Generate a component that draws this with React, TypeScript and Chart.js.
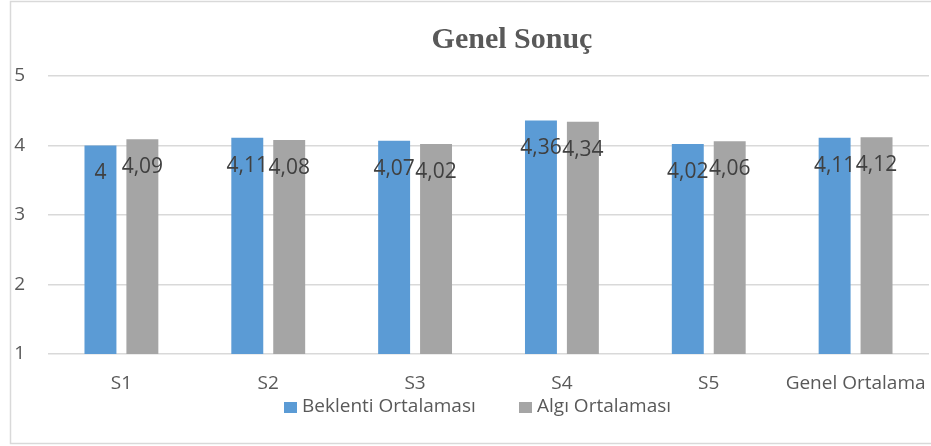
import React, { useEffect, useRef } from "react";
import { Chart, registerables } from "chart.js";

Chart.register(...registerables);

const categories = ["S1", "S2", "S3", "S4", "S5", "Genel Ortalama"];
const beklenti = [4, 4.11, 4.07, 4.36, 4.02, 4.11];
const algi = [4.09, 4.08, 4.02, 4.34, 4.06, 4.12];
const seriesNames = ["Beklenti Ortalaması", "Algı Ortalaması"];
const titleText = "Genel Sonuç";
const yMin = 1;
const yMax = 5;

const BLUE = "#5B9BD5";
const GRAY = "#A5A5A5";
const TEXT = "#595959";
const FONT = "'Open Sans'";

const fmt = (v: number) => String(v).replace(".", ",");

const decorPlugin = {
  id: "decor",
  beforeDraw(chart: any) {
    const ctx = chart.ctx;
    ctx.save();
    ctx.fillStyle = "#ffffff";
    ctx.fillRect(0, 0, chart.width, chart.height);
    ctx.strokeStyle = "#d9d9d9";
    ctx.lineWidth = 1.5;
    ctx.strokeRect(10.5, 1.5, chart.width + 20, 442);
    ctx.restore();
  },
  afterDraw(chart: any) {
    const ctx = chart.ctx;
    ctx.save();
    // title
    ctx.fillStyle = TEXT;
    ctx.font = "bold 30px 'Liberation Serif'";
    ctx.textAlign = "center";
    ctx.textBaseline = "middle";
    ctx.fillText(titleText, 512, 40);
    // data labels
    ctx.font = `21px ${FONT}`;
    ctx.fillStyle = "#404040";
    chart.data.datasets.forEach((ds: any, i: number) => {
      const meta = chart.getDatasetMeta(i);
      meta.data.forEach((bar: any, j: number) => {
        ctx.fillText(fmt(ds.data[j]), bar.x, bar.y + 28);
      });
    });
    // legend
    ctx.font = `19px ${FONT}`;
    ctx.textAlign = "left";
    const colors = [BLUE, GRAY];
    const xs = [284, 519];
    seriesNames.forEach((name, i) => {
      ctx.fillStyle = colors[i];
      ctx.fillRect(xs[i], 402, 13, 11);
      ctx.fillStyle = TEXT;
      ctx.fillText(name, xs[i] + 18, 407);
    });
    ctx.restore();
  },
};

export default function App() {
  const ref = useRef<HTMLCanvasElement | null>(null);
  useEffect(() => {
    if (!ref.current) return;
    const chart = new Chart(ref.current, {
      type: "bar",
      data: {
        labels: categories,
        datasets: [
          { label: seriesNames[0], data: beklenti, backgroundColor: BLUE },
          { label: seriesNames[1], data: algi, backgroundColor: GRAY },
        ],
      },
      options: {
        responsive: false,
        animation: false,
        layout: { padding: { top: 76, bottom: 32, left: 0, right: 2 } },
        plugins: {
          legend: { display: false },
          title: { display: false },
          tooltip: { enabled: false },
        },
        datasets: {
          bar: { categoryPercentage: 0.571, barPercentage: 0.762 },
        },
        scales: {
          x: {
            grid: { display: false },
            border: { display: false },
            ticks: { color: TEXT, font: { family: FONT, size: 19 }, padding: 10, maxRotation: 0, autoSkip: false },
            afterFit: (s: any) => {
              s.height = 60;
              s.paddingLeft = 0;
              s.paddingRight = 0;
            },
          },
          y: {
            min: yMin,
            max: yMax,
            ticks: { stepSize: 1, color: TEXT, font: { family: FONT, size: 19 }, padding: 23 },
            grid: { color: "#d9d9d9", lineWidth: 1.5, drawTicks: false },
            border: { display: false },
            afterFit: (s: any) => { s.width = 48; },
          },
        },
      },
      plugins: [decorPlugin],
    });
    return () => chart.destroy();
  }, []);
  return (
    <div style={{ position: "absolute", left: 0, top: 0, width: 931, height: 446, background: "#fff" }}>
      <canvas ref={ref} width={931} height={446} />
    </div>
  );
}
